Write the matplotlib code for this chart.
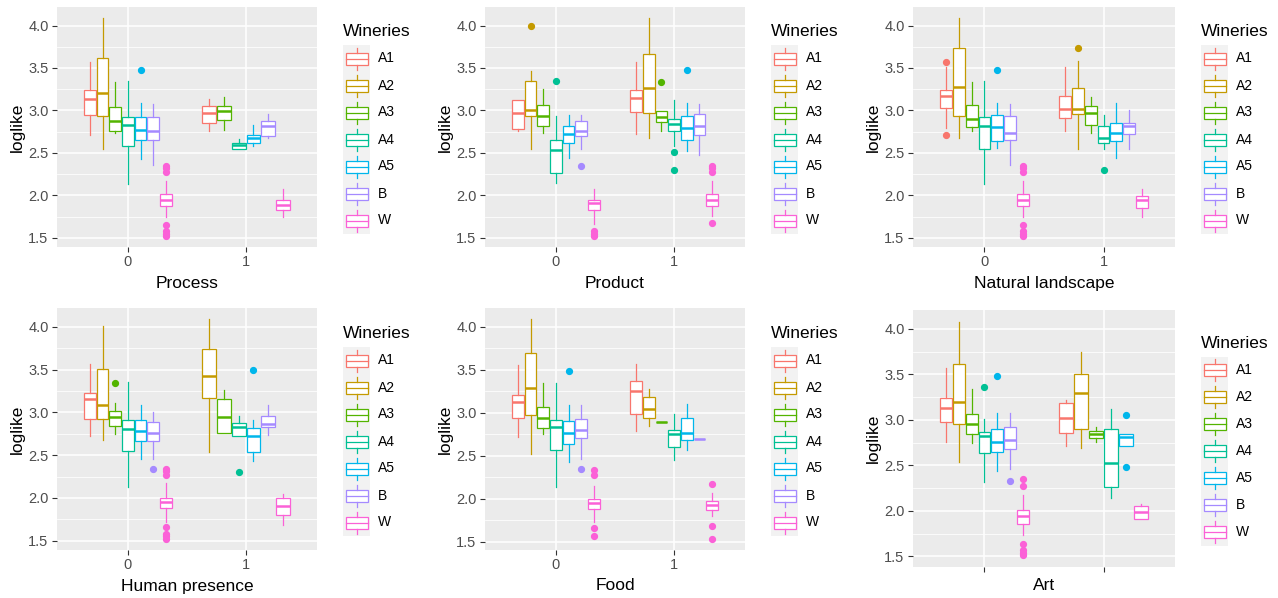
import matplotlib
matplotlib.use("Agg")
import matplotlib.pyplot as plt
from matplotlib.patches import Rectangle
from matplotlib.ticker import MultipleLocator, FormatStrFormatter

plt.rcParams['font.family'] = ['Liberation Sans', 'DejaVu Sans']

W, H = 1278, 598

wineries = ["A1", "A2", "A3", "A4", "A5", "B", "W"]
palette = ["#F8766D", "#C49A00", "#53B400", "#00C094", "#00B6EB", "#A58AFF", "#FB61D7"]
colors = dict(zip(wineries, palette))

# box stats per winery: [lower whisker, q1, median, q3, upper whisker]
process_0 = {
    "A1": [2.71, 2.95, 3.14, 3.24, 3.57],
    "A2": [2.54, 2.94, 3.20, 3.62, 4.09],
    "A3": [2.74, 2.76, 2.88, 3.04, 3.34],
    "A4": [2.13, 2.58, 2.83, 2.92, 3.35],
    "A5": [2.43, 2.65, 2.77, 2.92, 3.09],
    "B": [2.36, 2.65, 2.76, 2.92, 3.08],
    "W": [1.74, 1.88, 1.95, 2.01, 2.17],
}
process_0_out = {"A5": [3.48], "W": [2.34, 2.32, 2.27, 1.65, 1.58, 1.55, 1.52]}
process_1 = {
    "A1": [2.76, 2.85, 2.97, 3.05, 3.13],
    "A3": [2.77, 2.89, 2.99, 3.05, 3.16],
    "A4": [2.54, 2.55, 2.59, 2.62, 2.66],
    "A5": [2.58, 2.62, 2.68, 2.71, 2.83],
    "B": [2.68, 2.70, 2.82, 2.88, 2.96],
    "W": [1.74, 1.83, 1.89, 1.95, 2.07],
}
process_1_out = {}

product_0 = {
    "A1": [2.76, 2.78, 2.97, 3.12, 3.12],
    "A2": [2.54, 2.93, 3.01, 3.35, 3.47],
    "A3": [2.74, 2.82, 2.94, 3.06, 3.25],
    "A4": [2.14, 2.26, 2.53, 2.65, 2.94],
    "A5": [2.44, 2.62, 2.72, 2.82, 2.95],
    "B": [2.54, 2.70, 2.76, 2.87, 2.95],
    "W": [1.66, 1.83, 1.91, 1.95, 2.08],
}
product_0_out = {"A2": [4.0], "A4": [3.35], "B": [2.34], "W": [1.58, 1.55, 1.52]}
product_1 = {
    "A1": [2.72, 2.98, 3.15, 3.24, 3.57],
    "A2": [2.68, 2.97, 3.26, 3.67, 4.09],
    "A3": [2.76, 2.86, 2.92, 2.99, 2.99],
    "A4": [2.58, 2.76, 2.84, 2.90, 3.12],
    "A5": [2.52, 2.65, 2.79, 2.94, 3.09],
    "B": [2.47, 2.71, 2.82, 2.96, 3.08],
    "W": [1.76, 1.88, 1.95, 2.01, 2.17],
}
product_1_out = {"A3": [3.34], "A4": [2.51, 2.30], "A5": [3.48], "W": [2.34, 2.32, 2.27, 1.68]}

landscape_0 = {
    "A1": [2.79, 3.03, 3.17, 3.24, 3.51],
    "A2": [2.68, 2.94, 3.28, 3.73, 4.09],
    "A3": [2.76, 2.80, 2.90, 3.06, 3.34],
    "A4": [2.13, 2.54, 2.82, 2.92, 3.35],
    "A5": [2.56, 2.64, 2.80, 2.95, 3.09],
    "B": [2.36, 2.65, 2.74, 2.94, 3.08],
    "W": [1.74, 1.88, 1.95, 2.01, 2.17],
}
landscape_0_out = {"A1": [3.57, 2.71], "A5": [3.48], "W": [2.34, 2.32, 2.27, 1.65, 1.58, 1.55, 1.52]}
landscape_1 = {
    "A1": [2.76, 2.91, 3.02, 3.17, 3.51],
    "A2": [2.54, 2.96, 3.02, 3.26, 3.58],
    "A3": [2.74, 2.83, 2.97, 3.05, 3.16],
    "A4": [2.54, 2.62, 2.67, 2.82, 2.95],
    "A5": [2.44, 2.64, 2.74, 2.85, 3.09],
    "B": [2.54, 2.72, 2.82, 2.85, 3.00],
    "W": [1.74, 1.85, 1.95, 1.99, 2.08],
}
landscape_1_out = {"A2": [3.74], "A4": [2.30]}

human_0 = {
    "A1": [2.72, 2.92, 3.15, 3.23, 3.57],
    "A2": [2.68, 2.92, 3.09, 3.51, 4.01],
    "A3": [2.75, 2.84, 2.94, 3.02, 3.11],
    "A4": [2.13, 2.55, 2.80, 2.91, 3.35],
    "A5": [2.46, 2.66, 2.78, 2.91, 3.09],
    "B": [2.46, 2.67, 2.76, 2.89, 3.00],
    "W": [1.72, 1.88, 1.95, 2.00, 2.17],
}
human_0_out = {"A3": [3.34], "B": [2.34], "W": [2.34, 2.32, 2.27, 1.66, 1.58, 1.55, 1.52]}
human_1 = {
    "A2": [2.54, 3.17, 3.42, 3.74, 4.09],
    "A3": [2.76, 2.76, 2.94, 3.16, 3.26],
    "A4": [2.72, 2.72, 2.83, 2.87, 2.96],
    "A5": [2.43, 2.54, 2.72, 2.82, 2.91],
    "B": [2.73, 2.83, 2.86, 2.96, 3.09],
    "W": [1.68, 1.80, 1.90, 2.00, 2.04],
}
human_1_out = {"A4": [2.30], "A5": [3.49]}

food_0 = {
    "A1": [2.72, 2.94, 3.13, 3.20, 3.55],
    "A2": [2.52, 2.97, 3.29, 3.69, 4.09],
    "A3": [2.75, 2.82, 2.94, 3.07, 3.34],
    "A4": [2.13, 2.56, 2.83, 2.91, 3.35],
    "A5": [2.43, 2.64, 2.76, 2.90, 3.09],
    "B": [2.46, 2.71, 2.80, 2.93, 3.09],
    "W": [1.73, 1.88, 1.95, 2.00, 2.15],
}
food_0_out = {"A5": [3.49], "B": [2.34], "W": [2.33, 2.27, 1.66, 1.57]}
food_1 = {
    "A1": [2.79, 2.99, 3.25, 3.37, 3.57],
    "A2": [2.85, 2.94, 3.04, 3.18, 3.27],
    "A3": [2.89, 2.89, 2.89, 2.89, 2.89],
    "A4": [2.45, 2.60, 2.75, 2.80, 2.98],
    "A5": [2.56, 2.68, 2.76, 2.94, 3.10],
    "B": [2.69, 2.69, 2.69, 2.69, 2.69],
    "W": [1.80, 1.87, 1.92, 1.97, 2.07],
}
food_1_out = {"W": [2.17, 1.68, 1.53]}

art_0 = {
    "A1": [2.76, 2.98, 3.13, 3.24, 3.57],
    "A2": [2.54, 2.95, 3.20, 3.62, 4.08],
    "A3": [2.75, 2.84, 2.95, 3.06, 3.34],
    "A4": [2.32, 2.64, 2.82, 2.87, 3.01],
    "A5": [2.44, 2.65, 2.76, 2.90, 3.08],
    "B": [2.46, 2.68, 2.78, 2.92, 3.08],
    "W": [1.73, 1.86, 1.94, 2.01, 2.17],
}
art_0_out = {"A4": [3.36], "A5": [3.48], "B": [2.33], "W": [2.35, 2.27, 1.64, 1.57, 1.54, 1.51]}
art_1 = {
    "A1": [2.71, 2.86, 3.02, 3.19, 3.22],
    "A2": [2.69, 2.90, 3.30, 3.50, 3.75],
    "A3": [2.76, 2.80, 2.85, 2.88, 2.92],
    "A4": [2.14, 2.26, 2.53, 2.90, 3.12],
    "A5": [2.71, 2.71, 2.81, 2.84, 2.84],
    "W": [1.91, 1.91, 1.99, 2.05, 2.08],
}
art_1_out = {"A5": [3.05, 2.48]}

panels = [
    ("Process", ["0", "1"], [(process_0, process_0_out), (process_1, process_1_out)]),
    ("Product", ["0", "1"], [(product_0, product_0_out), (product_1, product_1_out)]),
    ("Natural landscape", ["0", "1"], [(landscape_0, landscape_0_out), (landscape_1, landscape_1_out)]),
    ("Human presence", ["0", "1"], [(human_0, human_0_out), (human_1, human_1_out)]),
    ("Food", ["0", "1"], [(food_0, food_0_out), (food_1, food_1_out)]),
    ("Art", ["", ""], [(art_0, art_0_out), (art_1, art_1_out)]),
]

# panel rectangles in pixels: left, top, right, bottom
layout = [
    (57, 7, 317, 247), (485, 7, 745, 247), (913, 7, 1175, 247),
    (57, 308, 317, 550), (485, 308, 745, 550), (913, 310, 1175, 567),
]

BG = "#EBEBEB"
KEY_BG = "#F2F2F2"
LW = 0.9

fig = plt.figure(figsize=(W / 100, H / 100), dpi=100)
fig.patch.set_facecolor("white")

overlay = fig.add_axes([0, 0, 1, 1], zorder=-1)
overlay.set_xlim(0, W)
overlay.set_ylim(H, 0)
overlay.axis("off")


def draw_group(ax, center, stats, outs):
    present = [w for w in wineries if w in stats]
    slot = 0.75 / len(present)
    for j, w in enumerate(present):
        c = colors[w]
        lo, q1, med, q3, hi = stats[w]
        st = dict(whislo=lo, q1=q1, med=med, q3=q3, whishi=hi, fliers=outs.get(w, []))
        pos = center - 0.375 + slot * (j + 0.5)
        ax.bxp([st], positions=[pos], widths=[slot * 0.92], patch_artist=True,
               showcaps=False, manage_ticks=False,
               boxprops=dict(facecolor="white", edgecolor=c, linewidth=LW),
               whiskerprops=dict(color=c, linewidth=LW),
               medianprops=dict(color=c, linewidth=LW * 2),
               flierprops=dict(marker="o", markerfacecolor=c, markeredgecolor=c,
                               markersize=4.2, linestyle="none"))


for (title, ticklabels, groups), (l, t, r, b) in zip(panels, layout):
    ax = fig.add_axes([l / W, 1 - b / H, (r - l) / W, (b - t) / H])
    ax.set_facecolor(BG)
    for s in ax.spines.values():
        s.set_visible(False)
    ax.set_axisbelow(True)

    allv = []
    for gi, (stats, outs) in enumerate(groups):
        draw_group(ax, gi, stats, outs)
        for v in stats.values():
            allv += v
        for v in outs.values():
            allv += v
    lo, hi = min(allv), max(allv)
    pad = 0.05 * (hi - lo)
    ax.set_ylim(lo - pad, hi + pad)
    ax.set_xlim(-0.6, 1.6)

    ax.set_xticks([0, 1])
    ax.set_xticklabels(ticklabels)
    ax.yaxis.set_major_locator(MultipleLocator(0.5))
    ax.yaxis.set_minor_locator(MultipleLocator(0.25))
    ax.yaxis.set_major_formatter(FormatStrFormatter("%.1f"))
    ax.tick_params(which="major", length=3.6, width=0.8, color="#333333",
                   labelcolor="#4D4D4D", labelsize=10.5, pad=2.5)
    ax.tick_params(which="minor", length=0)
    ax.grid(which="major", color="white", linewidth=1.1)
    ax.grid(which="minor", axis="y", color="white", linewidth=0.55)

    ax.set_xlabel(title, fontsize=12.5, color="black")
    ax.set_ylabel("loglike", fontsize=12.5, color="black")
    ax.yaxis.set_label_coords(-40 / (r - l), 0.5)
    ax.yaxis.label.set_va("center")
    xoff = 36 if ticklabels[0] else 18
    ax.xaxis.set_label_coords(0.5, -xoff / (b - t))
    ax.xaxis.label.set_va("center")

    # legend
    kx = r + 26
    top = (t + b) / 2 - 103
    overlay.text(kx, top + 8, "Wineries", fontsize=12.5, va="center", ha="left")
    bg_top = top + 21
    key = 27
    overlay.add_patch(Rectangle((kx, bg_top), key, key * len(wineries),
                                facecolor=KEY_BG, edgecolor="none"))
    for i, w in enumerate(wineries):
        c = colors[w]
        cy = bg_top + key * (i + 0.5)
        cx = kx + key / 2
        overlay.plot([cx, cx], [cy - 11, cy - 6], color=c, lw=LW)
        overlay.plot([cx, cx], [cy + 6, cy + 11], color=c, lw=LW)
        overlay.add_patch(Rectangle((kx + 2.5, cy - 6), key - 5, 12, facecolor="white",
                                    edgecolor=c, linewidth=LW))
        overlay.plot([kx + 2.5, kx + key - 2.5], [cy, cy], color=c, lw=LW)
        overlay.text(kx + 35, cy, w, fontsize=10, va="center", ha="left")

fig.savefig("out.png", dpi=100)
